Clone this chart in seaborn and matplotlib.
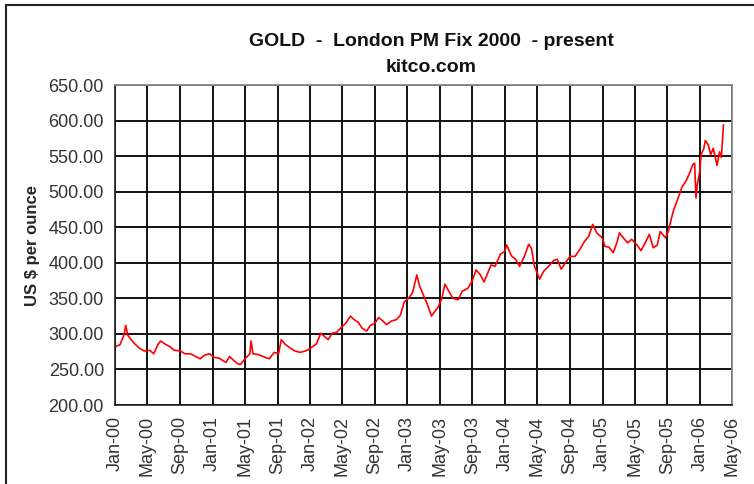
import matplotlib
matplotlib.use("Agg")
import matplotlib.pyplot as plt
import matplotlib.dates as mdates
import seaborn as sns
import pandas as pd

# gold London PM fix
dates = [
    "2000-01-03", "2000-01-20", "2000-02-05", "2000-02-10", "2000-02-18", "2000-03-01",
    "2000-03-15", "2000-04-01", "2000-04-20", "2000-05-10", "2000-05-25", "2000-06-10",
    "2000-06-20", "2000-07-05", "2000-07-25", "2000-08-10", "2000-09-01", "2000-09-20",
    "2000-10-10", "2000-10-30", "2000-11-15", "2000-12-01", "2000-12-20",
    "2001-01-05", "2001-01-25", "2001-02-10", "2001-02-20", "2001-03-05", "2001-03-20",
    "2001-04-05", "2001-04-15", "2001-04-30", "2001-05-20", "2001-05-25", "2001-06-01",
    "2001-06-20", "2001-07-10", "2001-08-01", "2001-08-20", "2001-09-05", "2001-09-15",
    "2001-09-28", "2001-10-15", "2001-11-05", "2001-11-25", "2001-12-15", "2001-12-31",
    "2002-01-10", "2002-01-25", "2002-02-10", "2002-02-25", "2002-03-10", "2002-03-25",
    "2002-04-10", "2002-04-25", "2002-05-15", "2002-06-01", "2002-06-15", "2002-07-01",
    "2002-07-15", "2002-08-01", "2002-08-15", "2002-09-01", "2002-09-15", "2002-10-01",
    "2002-10-15", "2002-11-01", "2002-11-20", "2002-12-05", "2002-12-20",
    "2003-01-05", "2003-01-20", "2003-02-05", "2003-02-15", "2003-03-01", "2003-03-15",
    "2003-04-01", "2003-04-10", "2003-04-25", "2003-05-10", "2003-05-21", "2003-06-05",
    "2003-06-20", "2003-07-10", "2003-07-25", "2003-08-15", "2003-09-01", "2003-09-15",
    "2003-10-01", "2003-10-15", "2003-11-10", "2003-11-25", "2003-12-15", "2003-12-31",
    "2004-01-08", "2004-01-25", "2004-02-10", "2004-02-25", "2004-03-15", "2004-03-30",
    "2004-04-10", "2004-04-20", "2004-05-10", "2004-05-25", "2004-06-15", "2004-07-01",
    "2004-07-15", "2004-07-30", "2004-08-15", "2004-09-01", "2004-09-20", "2004-10-10",
    "2004-10-25", "2004-11-10", "2004-11-25", "2004-12-10", "2004-12-31",
    "2005-01-10", "2005-01-25", "2005-02-10", "2005-02-25", "2005-03-05", "2005-03-20",
    "2005-04-05", "2005-04-20", "2005-05-10", "2005-05-25", "2005-06-10", "2005-06-25",
    "2005-07-10", "2005-07-25", "2005-08-05", "2005-08-25", "2005-09-05", "2005-09-15",
    "2005-09-25", "2005-10-10", "2005-10-26", "2005-11-10", "2005-11-25", "2005-12-05",
    "2005-12-12", "2005-12-17", "2005-12-22", "2006-01-01", "2006-01-05", "2006-01-15",
    "2006-01-21", "2006-02-01", "2006-02-10", "2006-02-20", "2006-03-01", "2006-03-06",
    "2006-03-15", "2006-03-22", "2006-03-30",
]
prices = [
    282, 285, 300, 312, 298, 292,
    286, 280, 276, 277, 272, 285,
    290, 286, 282, 277, 276, 272,
    272, 268, 265, 270, 272,
    267, 266, 262, 260, 268, 263,
    258, 257, 264, 272, 290, 272,
    271, 268, 265, 274, 272, 292,
    286, 281, 276, 274, 276, 279,
    282, 286, 301, 296, 292, 301,
    302, 308, 315, 325, 320, 316,
    308, 304, 312, 315, 323, 318,
    313, 318, 320, 326, 345,
    350, 358, 383, 368, 355, 343,
    325, 330, 337, 350, 370, 360,
    350, 348, 360, 364, 375, 390,
    383, 373, 397, 395, 412, 416,
    425, 410, 405, 395, 410, 426,
    420, 396, 377, 388, 396, 403,
    405, 391, 400, 409, 409, 420,
    430, 437, 454, 442, 435,
    423, 422, 414, 430, 442, 435,
    428, 433, 425, 417, 428, 440,
    421, 425, 444, 435, 445, 461,
    475, 490, 507, 515, 528, 538,
    540, 491, 510, 530, 552, 560,
    572, 566, 552, 561, 545, 537,
    556, 548, 594,
]
y_ticks = [200, 250, 300, 350, 400, 450, 500, 550, 600, 650]

df = pd.DataFrame({"date": pd.to_datetime(dates), "price": prices})

sns.set_style("white")
plt.rcParams["font.family"] = ["Liberation Sans", "DejaVu Sans"]

fig = plt.figure(figsize=(7.54, 4.84), dpi=100)
ax = fig.add_axes([115 / 754, 1 - 405 / 484, 617 / 754, 320 / 484])

sns.lineplot(data=df, x="date", y="price", color="#ff0000", linewidth=1.2, ax=ax)

ax.set_xlim(pd.Timestamp("2000-01-01"), pd.Timestamp("2006-05-01"))
ax.set_ylim(200, 650)
ax.set_yticks(y_ticks)
ax.set_yticklabels([f"{v:.2f}" for v in y_ticks])
ax.xaxis.set_major_locator(mdates.MonthLocator(bymonth=[1, 5, 9]))
ax.xaxis.set_major_formatter(mdates.DateFormatter("%b-%y"))

ax.grid(True, color="#111111", linewidth=1.4)
ax.tick_params(axis="both", direction="out", length=5, width=1, color="#333333",
               labelsize=13, labelcolor="#333333", pad=3)
ax.tick_params(axis="x", labelrotation=90)
for s in ["left", "bottom"]:
    ax.spines[s].set_color("#222222")
    ax.spines[s].set_linewidth(1.2)
for s in ["top", "right"]:
    ax.spines[s].set_color("#888888")
    ax.spines[s].set_linewidth(1.3)

ax.set_xlabel("")
ax.set_ylabel("US $ per ounce", fontsize=12, fontweight="bold", labelpad=6)

fig.text(431 / 754, 1 - 42 / 484, "GOLD  -  London PM Fix 2000  - present",
         ha="center", va="center", fontsize=14, fontweight="bold", color="#111111")
fig.text(431 / 754, 1 - 67 / 484, "kitco.com",
         ha="center", va="center", fontsize=14, fontweight="bold", color="#111111")

# frame of the original picture, cut on the right and bottom
fig.add_artist(plt.Line2D([5.5 / 754, 5.5 / 754], [0, 1 - 4.5 / 484], color="#222222",
                          linewidth=1.5, transform=fig.transFigure))
fig.add_artist(plt.Line2D([5.5 / 754, 1], [1 - 4.5 / 484, 1 - 4.5 / 484], color="#222222",
                          linewidth=1.5, transform=fig.transFigure))

fig.savefig("out.png", dpi=100)
